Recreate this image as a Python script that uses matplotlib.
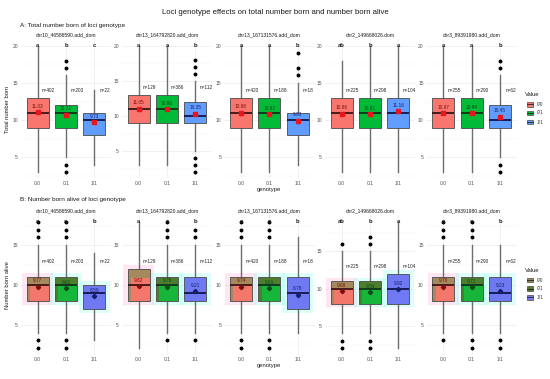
import matplotlib
matplotlib.use("Agg")
import matplotlib.pyplot as plt
from matplotlib.patches import Rectangle
from matplotlib.lines import Line2D

plt.rcParams['font.family'] = ['Liberation Sans', 'DejaVu Sans']

genotypes = ['0/0', '0/1', '1/1']
loci = ['chr10_46586590.add_dom', 'chr13_164792820.add_dom', 'chr13_167131576.add_dom',
        'chr2_149668026.dom', 'chr3_89391980.add_dom']
n_counts = [[402, 203, 22], [129, 386, 112], [420, 188, 18], [225, 298, 104], [255, 290, 62]]

# ---- A: Total number born ----
tnb_q1 = [[9, 9, 8], [9, 9, 9], [9, 9, 8], [9, 9, 9], [9, 9, 9]]
tnb_med = [[11, 11, 10], [11, 11, 10], [11, 11, 10], [11, 11, 11], [11, 11, 10]]
tnb_q3 = [[13, 12, 11], [13, 13, 12], [13, 13, 11], [13, 13, 13], [13, 13, 12]]
tnb_lo = [[3, 5, 4], [3, 3, 5], [3, 3, 4], [3, 3, 3], [3, 3, 5]]
tnb_hi = [[20, 16, 14], [20, 20, 15], [20, 20, 15], [18, 20, 20], [20, 20, 16]]
tnb_mean = [[11.03, 10.72, 9.73], [11.05, 10.98, 10.35], [10.98, 10.82, 9.93],
            [10.86, 10.81, 11.16], [10.97, 10.94, 10.45]]
tnb_fliers = [[[], [3, 4, 17, 18], []], [[], [], [2, 3, 4, 16, 17, 18]], [[], [], [16, 17, 19]],
              [[], [], []], [[], [], [3, 4, 17, 18]]]
tnb_letters = [['a', 'b', 'c'], ['a', 'a', 'b'], ['a', 'a', 'b'], ['ab', 'b', 'a'], ['a', 'a', 'b']]
tnb_n_y = 14

# ---- B: Number born alive ----
nba_q1 = [[8, 8, 7], [8, 8, 8], [8, 8, 7], [8, 8, 8], [8, 8, 8]]
nba_med = [[10, 10, 9], [10, 10, 9], [10, 10, 9], [10, 10, 10], [10, 10, 9]]
nba_q3 = [[11, 11, 10], [12, 11, 11], [11, 11, 11], [11, 11, 12], [11, 11, 11]]
nba_lo = [[4, 4, 3], [2, 4, 4], [4, 4, 4], [4, 4, 2], [4, 4, 4]]
nba_hi = [[15, 15, 14], [18, 15, 15], [15, 15, 16], [15, 15, 19], [15, 15, 15]]
nba_mean = [[9.77, 9.61, 8.59], [9.82, 9.76, 9.21], [9.74, 9.61, 8.78],
            [9.68, 9.56, 9.92], [9.76, 9.71, 9.23]]
nba_fliers = [[[2, 3, 16, 17, 18], [2, 3, 16, 17, 18], []],
              [[], [3, 16, 17, 18], [3, 16, 17]],
              [[2, 3, 16, 17, 18], [2, 3, 16, 17, 18], []],
              [[2, 3, 16], [2, 3, 16, 17], []],
              [[3, 16, 17, 18], [2, 3, 16, 17, 18], [2, 3]]]
nba_letters = [['a', 'a', 'b'], ['a', 'a', 'b'], ['a', 'a', 'b'], ['ab', 'b', 'a'], ['a', 'a', 'b']]
nba_n_y = 13

# ---- styles ----
W, H = 550, 379
fill_A = ['#F8766D', '#00BA38', '#619CFF']
fill_B = ['#A58A5E', '#4C7E2E', '#6F7AF2']
inner_B = ['#F3776A', '#16B63A', '#6F7AF2']
halo_B = ['#FFB8DC', '#9FFFEE', '#9FFFEE']
dark = ['#7A1010', '#0B4A14', '#14206E']
med_col = ['#3A1414', '#10301A', '#10154A']

fig = plt.figure(figsize=(W / 100, H / 100), dpi=100)


def rect(left, top, w, h):
    return [left / W, 1 - (top + h) / H, w / W, h / H]


centers = [66, 167, 269.3, 370, 471.7]
unit = 28.3
pw = 3.2 * unit
grid_c = '#EBEBEB'
tick_c = '#555555'


def draw_row(top, h, q1s, meds, q3s, los, his, means, fls, letters, n_y, row_b, yticks):
    axes = []
    for k in range(5):
        ax = fig.add_axes(rect(centers[k] - pw / 2, top, pw, h))
        stats = []
        for g in range(3):
            stats.append(dict(med=meds[k][g], q1=q1s[k][g], q3=q3s[k][g],
                              whislo=los[k][g], whishi=his[k][g],
                              fliers=fls[k][g], mean=means[k][g], label=genotypes[g]))
        fills = fill_B if row_b else fill_A
        bp = ax.bxp(stats, positions=[1, 2, 3], widths=0.78, patch_artist=True,
                    showcaps=False, showmeans=False, showfliers=True,
                    boxprops=dict(linewidth=0.6),
                    whiskerprops=dict(color='#6E6E6E', linewidth=1.0),
                    medianprops=dict(linewidth=1.3),
                    flierprops=dict(marker='o', markersize=1.8, markerfacecolor='black',
                                    markeredgecolor='black', linestyle='none'))
        for g, b in enumerate(bp['boxes']):
            b.set_facecolor(fills[g])
            b.set_edgecolor('#4A4A4A')
            b.set_zorder(3)
        for g, m in enumerate(bp['medians']):
            m.set_color(med_col[g])
            m.set_zorder(5)
        for w in bp['whiskers']:
            w.set_zorder(2)
        allmax = max(max(his[k]), max(max(f) if f else 0 for f in fls[k]))
        allmin = min(min(los[k]), min(min(f) if f else 99 for f in fls[k]))
        r = allmax - allmin
        ax.set_ylim(allmin - 0.05 * r, allmax + 0.05 * r)
        ax.set_xlim(0.4, 3.6)
        for g in range(3):
            x = g + 1
            q1, q3 = q1s[k][g], q3s[k][g]
            if row_b:
                ax.add_patch(Rectangle((x - 0.55, q1 - 0.5), 1.1, q3 - q1 + 1.0,
                                       facecolor=halo_B[g], alpha=0.35, edgecolor='none', zorder=1))
                if g < 2:
                    ax.add_patch(Rectangle((x - 0.39 + 0.12, q1), 0.66, (q3 - q1) * 0.72,
                                           facecolor=inner_B[g], edgecolor='none', zorder=4))
                ax.plot(x, means[k][g], marker='D', markersize=2.2, color=dark[g], zorder=6)
            else:
                ax.plot(x, means[k][g], marker='s', markersize=2.4, color='#E8141E', zorder=6)
            ax.text(x, means[k][g] + 0.45, f'{means[k][g]:.2f}', ha='center', va='bottom',
                    fontsize=3.4, color=dark[g], zorder=7)
            ax.text(x + 0.38, n_y, f'n={n_counts[k][g]}', ha='center', va='center',
                    fontsize=3.4, color='#222222', zorder=7)
            ax.text(x, allmax, letters[k][g], ha='center', va='center',
                    fontsize=4.2, fontweight='bold', color='#222222', zorder=7)
        ax.set_yticks(yticks)
        ax.set_yticks([t + 2.5 for t in [0] + yticks if allmin - 0.05 * r < t + 2.5 < allmax + 0.05 * r], minor=True)
        ax.set_xticks([1, 2, 3])
        ax.set_xticklabels(genotypes)
        ax.tick_params(axis='both', which='both', length=0, labelsize=3.6, colors=tick_c, pad=2)
        ax.grid(True, which='major', color=grid_c, linewidth=0.5, zorder=0)
        ax.grid(True, which='minor', axis='y', color='#F4F4F4', linewidth=0.3, zorder=0)
        ax.set_axisbelow(True)
        for s in ax.spines.values():
            s.set_visible(False)
        ax.set_facecolor('white')
        axes.append(ax)
    return axes


axA = draw_row(39.4, 139.1, tnb_q1, tnb_med, tnb_q3, tnb_lo, tnb_hi, tnb_mean, tnb_fliers,
               tnb_letters, tnb_n_y, False, [5, 10, 15, 20])
axB = draw_row(215.3, 139.4, nba_q1, nba_med, nba_q3, nba_lo, nba_hi, nba_mean, nba_fliers,
               nba_letters, nba_n_y, True, [5, 10, 15])

# strip titles
for k in range(5):
    fig.text(centers[k] / W, 1 - 35 / H, loci[k], ha='center', va='center', fontsize=3.6, color='#1A1A1A')
    fig.text(centers[k] / W, 1 - 211 / H, loci[k], ha='center', va='center', fontsize=3.6, color='#1A1A1A')

fig.text(275 / W, 1 - 12 / H, 'Loci genotype effects on total number born and number born alive',
         ha='center', va='center', fontsize=5.6, color='#1A1A1A')
fig.text(20 / W, 1 - 25 / H, 'A: Total number born of loci genotype', ha='left', va='center',
         fontsize=4.6, color='#1A1A1A')
fig.text(20 / W, 1 - 200 / H, 'B: Number born alive of loci genotype', ha='left', va='center',
         fontsize=4.6, color='#1A1A1A')
fig.text(269 / W, 1 - 189 / H, 'genotype', ha='center', va='center', fontsize=4.2, color='#1A1A1A')
fig.text(269 / W, 1 - 365 / H, 'genotype', ha='center', va='center', fontsize=4.2, color='#1A1A1A')
fig.text(8 / W, 1 - 109 / H, 'Total number born', rotation=90, ha='center', va='center',
         fontsize=4.2, color='#1A1A1A')
fig.text(8 / W, 1 - 285 / H, 'Number born alive', rotation=90, ha='center', va='center',
         fontsize=4.2, color='#1A1A1A')


def legend(top_title, key_tops, colors):
    fig.text(525 / W, 1 - top_title / H, 'Value', ha='left', va='center', fontsize=4.2, color='#1A1A1A')
    for y, c, lab in zip(key_tops, colors, genotypes):
        lax = fig.add_axes(rect(526.5, y - 3.2, 7, 6.4))
        lax.add_patch(Rectangle((0.08, 0.12), 0.84, 0.76, facecolor=c, edgecolor='#4A4A4A', linewidth=0.5))
        lax.plot([0.08, 0.92], [0.5, 0.5], color='#222222', linewidth=0.6)
        lax.set_xlim(0, 1)
        lax.set_ylim(0, 1)
        lax.axis('off')
        fig.text(537 / W, 1 - y / H, lab, ha='left', va='center', fontsize=3.4, color='#333333')


legend(95, [104.3, 113, 122], fill_A)
legend(270.7, [280, 288.7, 297.3], ['#9C8C5C', '#5A7A30', '#7B7BF0'])

fig.savefig('out.png', dpi=100, facecolor='white')
